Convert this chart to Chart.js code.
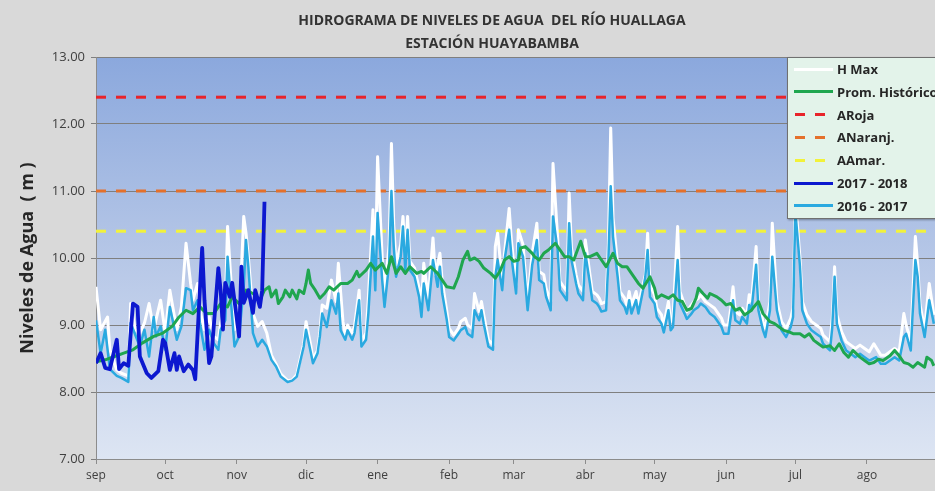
<!DOCTYPE html>
<html>

<head>
    <meta charset="UTF-8">
    <title>Hidrograma Rio Huallaga</title>
    <script src="https://cdn.jsdelivr.net/npm/chart.js@4.4.1/dist/chart.umd.min.js"></script>
    <style>
        body { margin: 0; background: #d9d9d9; overflow: hidden; }
        #wrap { position: relative; width: 935px; height: 491px; }
        #titulo {
            position: absolute; left: 0; top: 8px; width: 984px; text-align: center;
            font: bold 14px 'Open Sans', sans-serif; color: #333333; line-height: 23px;
        }
        #leyenda {
            position: absolute; left: 787px; top: 57px; width: 170px; height: 160px;
            background: #e3f3ea; border: 1px solid #707070; box-shadow: 1px 1px 2px rgba(0, 0, 0, 0.35);
        }
        #leyenda .item {
            position: absolute; left: 6px; height: 20px; display: flex; align-items: center;
            font: bold 13px 'Open Sans', sans-serif; color: #262626; white-space: nowrap;
        }
        #leyenda .muestra { width: 39px; height: 3px; margin-right: 4px; }
    </style>
</head>

<body>
    <div id="wrap">
        <canvas id="hidrograma"></canvas>
        <div id="titulo">HIDROGRAMA DE NIVELES DE AGUA &nbsp;DEL RÍO HUALLAGA<br>ESTACIÓN HUAYABAMBA</div>
        <div id="leyenda"></div>
    </div>
</body>

<script>
    // dias contados desde el 1 de setiembre
    var meses = ['sep', 'oct', 'nov', 'dic', 'ene', 'feb', 'mar', 'abr', 'may', 'jun', 'jul', 'ago'];
    var diasMes = [0, 30, 61, 91, 122, 153, 181, 212, 242, 273, 303, 334];

    var alertaRoja = 12.4;
    var alertaNaranja = 11.0;
    var alertaAmarilla = 10.4;

    var diasMax = [0, 2, 5, 6, 9, 11, 14, 15, 17, 19, 21, 23, 25, 28, 30, 32, 35, 37, 39, 41, 42, 44, 45, 47, 49, 51, 53, 54, 56, 57,
        59, 60, 62, 64, 65, 66, 68, 70, 72, 74, 76, 78, 80, 83, 85, 87, 88, 90, 91, 93, 94, 96, 97, 98, 100, 102, 104, 105, 107, 108,
        109, 111, 112, 114, 115, 117, 118, 120, 121, 122, 124, 125, 127, 128, 129, 130, 132, 133, 134, 135, 136, 138, 140, 141, 142, 144, 146, 147, 149, 150,
        152, 153, 155, 157, 158, 160, 161, 163, 164, 166, 167, 168, 170, 172, 173, 174, 176, 177, 179, 180, 182, 183, 185, 187, 189, 191, 192, 194, 195, 197,
        198, 200, 201, 202, 204, 205, 206, 208, 209, 211, 212, 214, 215, 217, 218, 219, 221, 222, 223, 224, 226, 227, 229, 230, 231, 232, 234, 235, 237, 238,
        239, 240, 242, 243, 245, 246, 248, 249, 250, 252, 253, 255, 256, 258, 259, 261, 262, 264, 266, 268, 269, 271, 272, 274, 275, 276, 277, 279, 280, 282,
        283, 284, 286, 287, 289, 290, 292, 293, 295, 297, 299, 301, 302, 303, 305, 306, 308, 310, 312, 314, 315, 318, 319, 320, 321, 323, 325, 327, 329, 331,
        333, 335, 337, 340, 342, 344, 346, 348, 350, 351, 353, 355, 356, 357, 359, 361, 363];
    var nivMax = [9.57, 8.93, 9.12, 8.63, 8.33, 8.28, 8.24, 9.32, 8.93, 8.88, 9.03, 9.32, 8.93, 9.37, 8.88, 9.52, 8.93, 9.27, 10.22, 9.62, 9.37, 9.62, 9.22, 8.93, 9.12, 8.83, 8.78, 9.03, 9.27, 10.47,
        9.37, 8.93, 9.03, 10.62, 10.37, 10.02, 9.17, 8.98, 9.05, 8.88, 8.55, 8.42, 8.27, 8.17, 8.18, 8.26, 8.42, 8.72, 9.05, 8.70, 8.50, 8.62, 8.90, 9.30, 9.25, 9.67, 9.35, 9.92, 9.05, 8.85,
        9.00, 8.88, 8.98, 9.52, 8.75, 8.88, 9.40, 10.72, 9.75, 11.51, 10.00, 9.45, 10.20, 11.71, 10.50, 9.90, 10.20, 10.62, 10.00, 10.62, 9.95, 9.85, 9.55, 9.30, 9.92, 9.40, 10.30, 9.75, 10.07, 9.65,
        9.20, 8.95, 8.85, 8.95, 9.05, 9.10, 9.00, 8.95, 9.47, 9.20, 9.35, 9.15, 8.78, 8.70, 10.17, 10.37, 9.65, 10.07, 10.74, 10.25, 9.60, 10.42, 10.20, 9.35, 10.07, 10.52, 9.80, 9.75, 9.55, 9.35,
        11.41, 10.30, 9.65, 9.60, 9.50, 10.97, 10.15, 9.75, 9.60, 9.50, 10.27, 9.75, 9.50, 9.45, 9.40, 9.32, 9.35, 10.20, 11.94, 10.60, 9.90, 9.50, 9.40, 9.30, 9.50, 9.30, 9.50, 9.30, 9.60, 9.75,
        10.37, 9.60, 9.45, 9.25, 9.15, 9.00, 9.35, 9.05, 9.10, 10.47, 9.50, 9.30, 9.20, 9.30, 9.35, 9.40, 9.45, 9.35, 9.30, 9.25, 9.20, 9.10, 9.00, 9.00, 9.25, 9.57, 9.20, 9.15, 9.25, 9.15,
        9.45, 9.35, 10.17, 9.35, 9.05, 8.95, 9.35, 10.52, 9.35, 9.05, 8.95, 9.10, 9.25, 10.90, 10.00, 9.35, 9.15, 9.05, 9.00, 8.95, 8.85, 8.75, 9.10, 9.87, 9.15, 8.90, 8.75, 8.70, 8.65, 8.70,
        8.65, 8.60, 8.72, 8.55, 8.55, 8.60, 8.65, 8.60, 9.17, 9.00, 8.75, 10.32, 9.90, 9.30, 8.95, 9.62, 9.15];

    var diasProm = [0, 4, 8, 12, 16, 20, 25, 29, 33, 36, 39, 42, 45, 48, 51, 54, 57, 59, 62, 65, 68, 71, 73, 75, 76, 78, 79, 81, 82, 84,
        85, 87, 88, 90, 91, 92, 93, 95, 97, 99, 101, 103, 106, 109, 111, 113, 114, 117, 119, 121, 124, 126, 128, 130, 132, 134, 136, 139, 141, 142,
        145, 148, 150, 152, 155, 157, 159, 161, 162, 164, 166, 168, 171, 173, 175, 177, 179, 181, 183, 184, 186, 189, 190, 192, 194, 196, 199, 201, 203, 205,
        207, 210, 212, 214, 217, 219, 221, 224, 226, 228, 230, 232, 235, 237, 240, 242, 243, 245, 248, 250, 252, 254, 256, 258, 260, 261, 263, 265, 266, 269,
        271, 273, 275, 277, 279, 281, 284, 285, 287, 289, 292, 294, 296, 298, 300, 302, 305, 307, 309, 311, 313, 315, 318, 320, 322, 324, 326, 328, 331, 333,
        335, 337, 339, 341, 344, 346, 348, 350, 352, 354, 356, 359, 360, 362, 363];
    var nivProm = [8.45, 8.48, 8.53, 8.58, 8.63, 8.73, 8.83, 8.88, 8.98, 9.12, 9.22, 9.17, 9.27, 9.17, 9.17, 9.32, 9.27, 9.42, 9.32, 9.52, 9.47, 9.37, 9.52, 9.57, 9.42, 9.52, 9.32, 9.42, 9.52, 9.42,
        9.52, 9.39, 9.52, 9.47, 9.62, 9.82, 9.62, 9.52, 9.40, 9.47, 9.57, 9.52, 9.62, 9.62, 9.67, 9.80, 9.72, 9.82, 9.92, 9.82, 9.92, 9.77, 10.02, 9.77, 9.87, 9.77, 9.87, 9.77, 9.80, 9.77,
        9.87, 9.77, 9.67, 9.57, 9.55, 9.72, 9.97, 10.10, 9.97, 10.00, 9.95, 9.85, 9.77, 9.70, 9.80, 9.97, 10.02, 9.95, 9.97, 10.15, 10.17, 10.07, 10.02, 9.97, 10.07, 10.12, 10.22, 10.12, 10.02, 10.02,
        9.97, 10.25, 10.02, 10.02, 10.07, 9.97, 9.87, 10.07, 9.92, 9.87, 9.87, 9.77, 9.62, 9.55, 9.72, 9.55, 9.40, 9.45, 9.40, 9.45, 9.37, 9.35, 9.22, 9.25, 9.40, 9.55, 9.47, 9.40, 9.47, 9.42,
        9.37, 9.30, 9.32, 9.22, 9.25, 9.15, 9.22, 9.27, 9.35, 9.17, 9.05, 9.02, 8.97, 8.92, 8.90, 8.87, 8.87, 8.82, 8.87, 8.77, 8.72, 8.67, 8.69, 8.62, 8.72, 8.59, 8.52, 8.62, 8.52, 8.47,
        8.42, 8.44, 8.49, 8.47, 8.54, 8.62, 8.54, 8.44, 8.42, 8.37, 8.44, 8.37, 8.52, 8.47, 8.39];

    var dias2017 = [0, 2, 4, 6, 9, 10, 12, 14, 16, 18, 19, 22, 24, 27, 29, 30, 32, 34, 35, 36, 38, 40, 42, 43, 45, 46, 47, 49, 50, 53,
        54, 55, 56, 58, 59, 62, 63, 64, 66, 68, 69, 71, 72, 73];
    var niv2017 = [8.43, 8.58, 8.36, 8.34, 8.78, 8.34, 8.43, 8.39, 9.32, 9.27, 8.53, 8.28, 8.21, 8.31, 8.78, 8.73, 8.33, 8.58, 8.33, 8.53, 8.31, 8.41, 8.33, 8.19, 9.52, 10.15, 9.37, 8.43, 8.53, 9.85,
        9.52, 8.93, 9.63, 9.42, 9.63, 8.83, 9.87, 9.33, 9.52, 9.18, 9.52, 9.27, 9.52, 10.84];

    var dias2016 = [0, 2, 4, 6, 9, 11, 14, 15, 19, 21, 23, 25, 26, 28, 30, 32, 35, 37, 39, 41, 42, 44, 45, 47, 49, 51, 53, 54, 56, 57,
        59, 60, 62, 64, 65, 66, 68, 70, 72, 74, 76, 78, 80, 83, 85, 87, 88, 90, 91, 93, 94, 96, 97, 98, 100, 102, 104, 105, 106, 108,
        109, 111, 112, 114, 115, 117, 118, 120, 121, 122, 124, 125, 127, 128, 129, 130, 132, 133, 134, 135, 136, 138, 140, 141, 142, 144, 146, 148, 149, 150,
        152, 153, 155, 157, 158, 160, 161, 163, 164, 166, 167, 168, 170, 172, 173, 174, 176, 177, 179, 180, 182, 183, 185, 187, 189, 191, 192, 194, 195, 197,
        198, 200, 201, 202, 204, 205, 206, 208, 209, 211, 212, 214, 215, 217, 218, 219, 221, 222, 223, 224, 226, 227, 229, 230, 231, 232, 234, 235, 237, 238,
        239, 240, 242, 243, 245, 246, 248, 249, 250, 252, 253, 255, 256, 258, 259, 261, 262, 264, 265, 266, 268, 269, 271, 272, 274, 275, 276, 277, 279, 280,
        282, 283, 284, 286, 287, 289, 290, 292, 293, 295, 297, 299, 301, 302, 303, 305, 306, 308, 310, 312, 314, 315, 318, 319, 320, 321, 323, 325, 327, 329,
        331, 333, 335, 338, 340, 342, 344, 346, 348, 350, 351, 353, 355, 356, 357, 359, 361, 363];
    var niv2016 = [9.07, 8.58, 8.93, 8.34, 8.24, 8.21, 8.15, 9.03, 8.68, 8.93, 8.53, 9.12, 8.83, 8.98, 8.63, 9.27, 8.78, 8.98, 9.55, 9.52, 9.22, 9.37, 9.03, 8.63, 8.93, 8.73, 8.63, 8.93, 9.07, 10.02,
        9.12, 8.68, 8.83, 9.57, 10.27, 9.87, 8.88, 8.68, 8.78, 8.68, 8.48, 8.38, 8.23, 8.15, 8.17, 8.23, 8.38, 8.68, 8.93, 8.60, 8.43, 8.58, 8.83, 9.17, 8.97, 9.37, 9.17, 9.47, 8.92, 8.78,
        8.92, 8.78, 8.88, 9.37, 8.68, 8.78, 9.17, 10.32, 9.52, 10.67, 9.67, 9.27, 9.92, 11.00, 10.17, 9.72, 10.02, 10.47, 9.82, 10.42, 9.82, 9.72, 9.42, 9.12, 9.62, 9.22, 9.97, 9.57, 9.87, 9.47,
        9.07, 8.82, 8.77, 8.87, 8.92, 8.97, 8.87, 8.82, 9.22, 9.07, 9.22, 9.02, 8.68, 8.63, 9.72, 9.97, 9.52, 9.97, 10.42, 10.02, 9.47, 10.22, 10.02, 9.22, 9.90, 10.27, 9.67, 9.62, 9.42, 9.22,
        10.62, 10.12, 9.52, 9.47, 9.37, 10.52, 9.97, 9.62, 9.47, 9.37, 10.07, 9.62, 9.37, 9.32, 9.27, 9.20, 9.22, 9.97, 11.07, 10.32, 9.72, 9.37, 9.27, 9.17, 9.37, 9.17, 9.37, 9.17, 9.52, 9.72,
        10.12, 9.42, 9.32, 9.12, 9.02, 8.89, 9.22, 8.92, 8.97, 9.97, 9.32, 9.17, 9.09, 9.17, 9.22, 9.27, 9.32, 9.27, 9.22, 9.17, 9.12, 9.07, 8.97, 8.87, 8.87, 9.12, 9.37, 9.07, 9.02, 9.12,
        9.02, 9.30, 9.22, 9.90, 9.22, 8.92, 8.82, 9.22, 10.02, 9.22, 8.92, 8.82, 8.97, 9.12, 10.70, 9.87, 9.22, 9.02, 8.92, 8.87, 8.82, 8.72, 8.62, 8.97, 9.72, 9.02, 8.77, 8.62, 8.57, 8.52,
        8.57, 8.52, 8.47, 8.52, 8.42, 8.42, 8.47, 8.52, 8.47, 8.82, 8.87, 8.62, 9.97, 9.72, 9.17, 8.82, 9.37, 9.02];

    var FIN = 363.5;

    function puntos(dias, niveles) {
        return dias.map(function (d, i) { return { x: d, y: niveles[i] }; });
    }
    function horizontal(valor) {
        return [{ x: 0, y: valor }, { x: FIN, y: valor }];
    }

    // fondo degradado del area de trazado
    var fondoPlot = {
        id: 'fondoPlot',
        beforeDraw: function (chart) {
            var ctx = chart.ctx, a = chart.chartArea;
            var g = ctx.createLinearGradient(0, a.top, 0, a.bottom);
            g.addColorStop(0, '#8ba8dd');
            g.addColorStop(0.5, '#b6c7e7');
            g.addColorStop(1, '#dde5f3');
            ctx.save();
            ctx.fillStyle = g;
            ctx.fillRect(a.left, a.top, a.right - a.left, a.bottom - a.top);
            ctx.restore();
        }
    };

    // leyenda html dentro del grafico
    var leyendaHtml = {
        id: 'leyendaHtml',
        afterUpdate: function (chart) {
            var box = document.getElementById('leyenda');
            box.innerHTML = '';
            chart.data.datasets.forEach(function (ds, i) {
                var item = document.createElement('div');
                item.className = 'item';
                item.style.top = (1 + i * 22.8) + 'px';
                var m = document.createElement('span');
                m.className = 'muestra';
                if (ds.borderDash && ds.borderDash.length) {
                    m.style.background = 'repeating-linear-gradient(90deg, transparent 0 1px, ' + ds.borderColor +
                        ' 1px 11px, transparent 11px 20px)';
                } else {
                    m.style.background = ds.borderColor;
                }
                item.appendChild(m);
                var t = document.createElement('span');
                t.textContent = ds.label;
                item.appendChild(t);
                box.appendChild(item);
            });
        }
    };

    var chart = new Chart(document.getElementById('hidrograma'), {
        type: 'line',
        data: {
            datasets: [{
                label: 'H Max',
                data: puntos(diasMax, nivMax),
                borderColor: '#ffffff',
                borderWidth: 3,
                order: 3
            }, {
                label: 'Prom. Histórico',
                data: puntos(diasProm, nivProm),
                borderColor: '#1fa64f',
                borderWidth: 3,
                order: 1
            }, {
                label: 'ARoja',
                data: horizontal(alertaRoja),
                borderColor: '#e8232a',
                borderWidth: 3,
                borderDash: [10, 10],
                order: 6
            }, {
                label: 'ANaranj.',
                data: horizontal(alertaNaranja),
                borderColor: '#e4702c',
                borderWidth: 3,
                borderDash: [10, 10],
                order: 5
            }, {
                label: 'AAmar.',
                data: horizontal(alertaAmarilla),
                borderColor: '#f2f23a',
                borderWidth: 3,
                borderDash: [10, 10],
                order: 4
            }, {
                label: '2017 - 2018',
                data: puntos(dias2017, niv2017),
                borderColor: '#0c18cf',
                borderWidth: 3.8,
                order: 0
            }, {
                label: '2016 - 2017',
                data: puntos(dias2016, niv2016),
                borderColor: '#2aa9e0',
                borderWidth: 2.5,
                order: 2
            }]
        },
        options: {
            responsive: true,
            maintainAspectRatio: false,
            animation: false,
            layout: { padding: { top: 57, right: 0, bottom: 0, left: 0 } },
            elements: {
                point: { radius: 0 },
                line: { tension: 0, borderJoinStyle: 'round' }
            },
            plugins: {
                legend: { display: false },
                title: { display: false },
                tooltip: { enabled: false }
            },
            scales: {
                x: {
                    type: 'linear',
                    min: 0,
                    max: FIN,
                    afterBuildTicks: function (scale) {
                        scale.ticks = diasMes.map(function (d) { return { value: d }; });
                    },
                    afterFit: function (scale) { scale.height = 32; },
                    ticks: {
                        autoSkip: false,
                        maxRotation: 0,
                        padding: 4,
                        color: '#404040',
                        font: { family: 'Open Sans', size: 12 },
                        callback: function (v) { return meses[diasMes.indexOf(v)]; }
                    },
                    grid: { drawOnChartArea: false, tickLength: 5, color: '#8c8c8c' },
                    border: { color: '#8c8c8c' }
                },
                y: {
                    min: 7,
                    max: 13,
                    afterFit: function (scale) { scale.width = 96; },
                    ticks: {
                        stepSize: 1,
                        padding: 6,
                        color: '#404040',
                        font: { family: 'Open Sans', size: 13 },
                        callback: function (v) { return v.toFixed(2); }
                    },
                    grid: { color: '#7f7f7f', tickLength: 5 },
                    border: { color: '#8c8c8c' },
                    title: {
                        display: true,
                        text: 'Niveles de Agua  ( m )',
                        color: '#262626',
                        font: { family: 'Open Sans', size: 18, weight: 'bold' },
                        padding: { top: 17, bottom: 0 }
                    }
                }
            }
        },
        plugins: [fondoPlot, leyendaHtml]
    });
</script>

</html>
